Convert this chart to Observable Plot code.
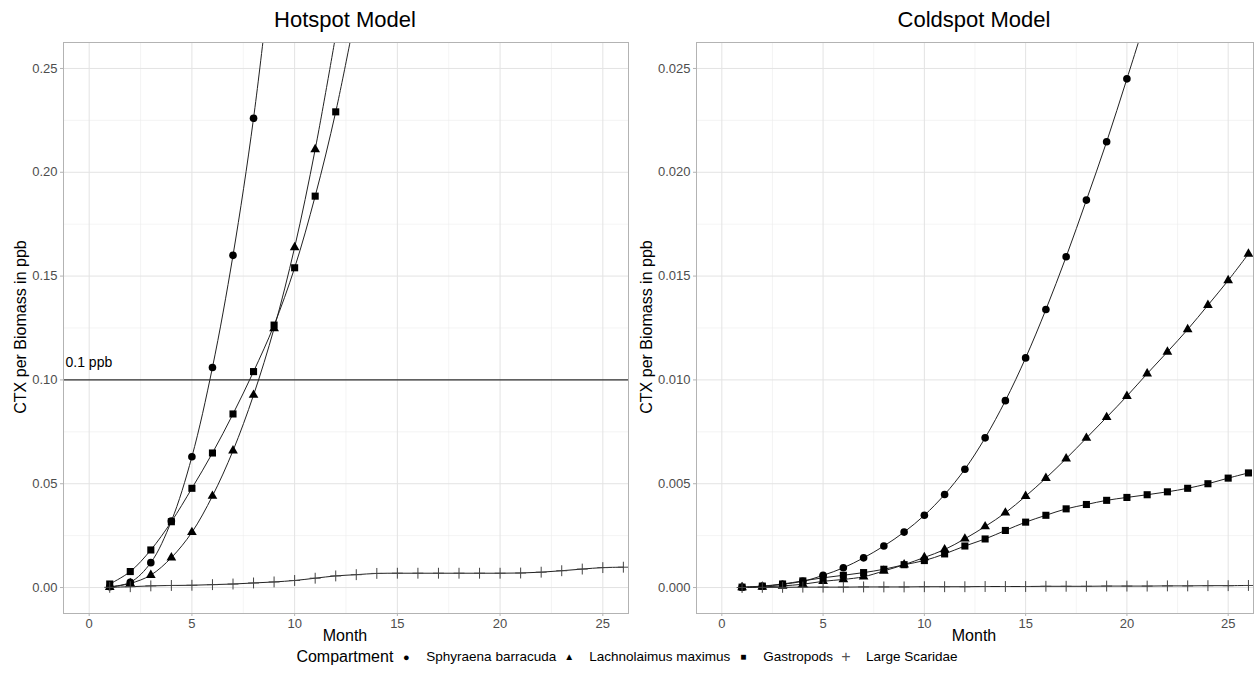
<!DOCTYPE html>
<html>
<head>
<meta charset="utf-8">
<script src="https://cdn.jsdelivr.net/npm/d3@7"></script>
<script src="https://cdn.jsdelivr.net/npm/@observablehq/plot@0.6"></script>
<style>
  html, body { margin: 0; padding: 0; background: #fff; }
  body { font-family: "Liberation Sans", Arial, sans-serif; }
  #wrap { position: relative; width: 1254px; height: 679px; overflow: hidden; }
  .panel { position: absolute; top: 0; z-index: 1; }
  .lbl { z-index: 5; }
  .title { position: absolute; top: 9px; font-size: 22px; line-height: 22px; color: #000; transform: translateX(-50%); white-space: nowrap; }
  .xlab { position: absolute; top: 628px; font-size: 16px; line-height: 16px; color: #000; transform: translateX(-50%); white-space: nowrap; }
  .ylab { position: absolute; font-size: 16px; line-height: 16px; color: #000; white-space: nowrap; transform: translate(-50%, -50%) rotate(-90deg); }
  #legend { position: absolute; top: 648px; left: 0; width: 1254px; text-align: center; font-size: 13.5px; line-height: 18px; white-space: nowrap; color: #000; z-index: 5; }
  #legend .lt { font-size: 16px; margin-right: 0; vertical-align: middle; }
  #legend .it { vertical-align: middle; margin-right: 0; }
  #legend .sym { vertical-align: middle; display: inline-block; width: 26px; text-align: center; margin-right: 7px; }
</style>
</head>
<body>
<div id="wrap">
  <div id="left" class="panel" style="left:0px"></div>
  <div id="right" class="panel" style="left:627px"></div>
  <div class="title lbl" style="left:345px">Hotspot Model</div>
  <div class="title lbl" style="left:974px">Coldspot Model</div>
  <div class="xlab lbl" style="left:345px">Month</div>
  <div class="xlab lbl" style="left:974px">Month</div>
  <div class="ylab lbl" style="left:21px; top:327px">CTX per Biomass in ppb</div>
  <div class="ylab lbl" style="left:647px; top:327px">CTX per Biomass in ppb</div>
  <div id="legend"></div>
</div>
<script>
// ---------- data ----------
const compartments = ["Sphyraena barracuda", "Lachnolaimus maximus", "Gastropods", "Large Scaridae"];
const months = [1,2,3,4,5,6,7,8,9,10,11,12,13,14,15,16,17,18,19,20,21,22,23,24,25,26];
const xTicks = [0, 5, 10, 15, 20, 25];
const xMinorTicks = [2.5, 7.5, 12.5, 17.5, 22.5];
const threshold = 0.1;
const thresholdLabel = "0.1 ppb";

// Hotspot model (values per month, starting at month 1)
const hotBarracuda = [0.0004, 0.0025, 0.012, 0.032, 0.063, 0.106, 0.160, 0.226, 0.31];
const hotLachnolaimus = [0.0002, 0.002, 0.006, 0.0144, 0.0266, 0.0441, 0.0659, 0.0927, 0.1248, 0.1638, 0.211, 0.266];
const hotGastropods = [0.0017, 0.0077, 0.0181, 0.0317, 0.0478, 0.0648, 0.0836, 0.104, 0.1264, 0.154, 0.1885, 0.2291, 0.278];
const hotScaridae = [0.0001, 0.0004, 0.0008, 0.001, 0.0011, 0.0014, 0.0017, 0.0022, 0.0027, 0.0034, 0.0045, 0.0056, 0.0062,
                     0.0068, 0.0069, 0.0069, 0.0069, 0.0069, 0.0069, 0.0069, 0.007, 0.0074, 0.0081, 0.0089, 0.0096, 0.0098];
const hotYTicks = [0, 0.05, 0.10, 0.15, 0.20, 0.25];
const hotYMinor = [0.025, 0.075, 0.125, 0.175, 0.225];

// Coldspot model
const coldBarracuda = [0.00001, 0.00006, 0.00016, 0.0003, 0.00059, 0.00095, 0.00143, 0.002, 0.00267, 0.00348, 0.00448,
                       0.0057, 0.00721, 0.009, 0.01106, 0.01339, 0.01593, 0.01866, 0.02147, 0.0245, 0.0276];
const coldLachnolaimus = [0.00001, 0.00003, 0.00008, 0.00016, 0.0003, 0.00039, 0.00052, 0.0008, 0.0011, 0.00145, 0.00183,
                          0.00235, 0.00294, 0.0036, 0.0044, 0.00527, 0.00621, 0.0072, 0.0082, 0.00922, 0.0103, 0.01135,
                          0.01243, 0.0136, 0.01479, 0.01607];
const coldGastropods = [0.00002, 0.00007, 0.00017, 0.00032, 0.00047, 0.00059, 0.00072, 0.00088, 0.0011, 0.0013, 0.00162,
                        0.002, 0.00234, 0.00275, 0.00315, 0.00348, 0.00379, 0.004, 0.0042, 0.00434, 0.00447, 0.00461,
                        0.00478, 0.005, 0.00527, 0.00552];
const coldScaridae = [0, 0.00001, 0.00001, 0.00002, 0.00002, 0.00002, 0.00003, 0.00003, 0.00003, 0.00004, 0.00004, 0.00004,
                      0.00005, 0.00005, 0.00005, 0.00006, 0.00006, 0.00006, 0.00007, 0.00007, 0.00007, 0.00008, 0.00008,
                      0.00009, 0.00009, 0.0001];
const coldYTicks = [0, 0.005, 0.010, 0.015, 0.020, 0.025];
const coldYMinor = [0.0025, 0.0075, 0.0125, 0.0175, 0.0225];

// ---------- helpers ----------
const rows = (vals, name) => vals.map((v, i) => ({month: months[i], value: v, compartment: name}));
const FONT = '"Liberation Sans", Arial, sans-serif';
const symbolStyle = {
  "Sphyraena barracuda": {symbol: "circle", r: 3.8, fill: "#000"},
  "Lachnolaimus maximus": {symbol: "triangle", r: 3.6, fill: "#000"},
  "Gastropods": {symbol: "square", r: 4.0, fill: "#000"},
  "Large Scaridae": {symbol: "plus", r: 3.6, fill: "none", stroke: "#444", strokeWidth: 1}
};

function panel({width, marginLeft, yDomain, yTicks, yMinor, fmt, series, extra = []}) {
  const all = series.flat();
  const dots = series.map(s => {
    const st = symbolStyle[s[0].compartment];
    return Plot.dot(s, {x: "month", y: "value", clip: true, ...st});
  });
  return Plot.plot({
    width, height: 645,
    marginTop: 42, marginBottom: 32, marginLeft, marginRight: 1,
    style: {fontFamily: FONT, fontSize: "13px", background: "transparent"},
    x: {domain: [-1.25, 26.25]},
    y: {domain: yDomain},
    marks: [
      Plot.gridX(xMinorTicks, {stroke: "#ededed", strokeOpacity: 1, strokeWidth: 0.6}),
      Plot.gridY(yMinor, {stroke: "#ededed", strokeOpacity: 1, strokeWidth: 0.6}),
      Plot.gridX(xTicks, {stroke: "#e3e3e3", strokeOpacity: 1, strokeWidth: 1}),
      Plot.gridY(yTicks, {stroke: "#e3e3e3", strokeOpacity: 1, strokeWidth: 1}),
      ...extra,
      Plot.line(all, {x: "month", y: "value", z: "compartment", stroke: "#222", strokeWidth: 1, curve: "catmull-rom", clip: true}),
      ...dots,
      Plot.frame({stroke: "#b3b3b3", strokeWidth: 1}),
      Plot.axisX({ticks: xTicks, tickSize: 3, tickPadding: 2, stroke: "#b3b3b3", fill: "#4d4d4d", fontSize: 13, label: null}),
      Plot.axisY({ticks: yTicks, tickFormat: fmt, tickSize: 3, tickPadding: 3, stroke: "#b3b3b3", fill: "#4d4d4d", fontSize: 13, label: null})
    ]
  });
}

const left = panel({
  width: 629, marginLeft: 63,
  yDomain: [-0.0125, 0.2625], yTicks: hotYTicks, yMinor: hotYMinor, fmt: d3.format(".2f"),
  series: [rows(hotBarracuda, compartments[0]), rows(hotLachnolaimus, compartments[1]),
           rows(hotGastropods, compartments[2]), rows(hotScaridae, compartments[3])],
  extra: [
    Plot.ruleY([threshold], {stroke: "#000", strokeWidth: 1}),
    Plot.text([threshold], {y: d => d, frameAnchor: "left", text: () => thresholdLabel, textAnchor: "start",
      dx: 2, dy: -17, fontSize: 14, fill: "#000"})
  ]
});
const right = panel({
  width: 627, marginLeft: 69,
  yDomain: [-0.00125, 0.02625], yTicks: coldYTicks, yMinor: coldYMinor, fmt: d3.format(".3f"),
  series: [rows(coldBarracuda, compartments[0]), rows(coldLachnolaimus, compartments[1]),
           rows(coldGastropods, compartments[2]), rows(coldScaridae, compartments[3])]
});
document.getElementById("left").appendChild(left);
document.getElementById("right").appendChild(right);

// ---------- legend ----------
const legendSymbols = ["●", "▲", "■", "+"];
const lg = document.getElementById("legend");
let html = '<span class="lt">Compartment</span>';
compartments.forEach((c, i) => {
  const sz = i === 3 ? 16 : (i === 0 ? 11 : 10);
  const col = i === 3 ? "#555" : "#000";
  html += `<span class="sym" style="font-size:${sz}px;color:${col}">${legendSymbols[i]}</span><span class="it">${c}</span>`;
});
lg.innerHTML = html;
</script>
</body>
</html>
